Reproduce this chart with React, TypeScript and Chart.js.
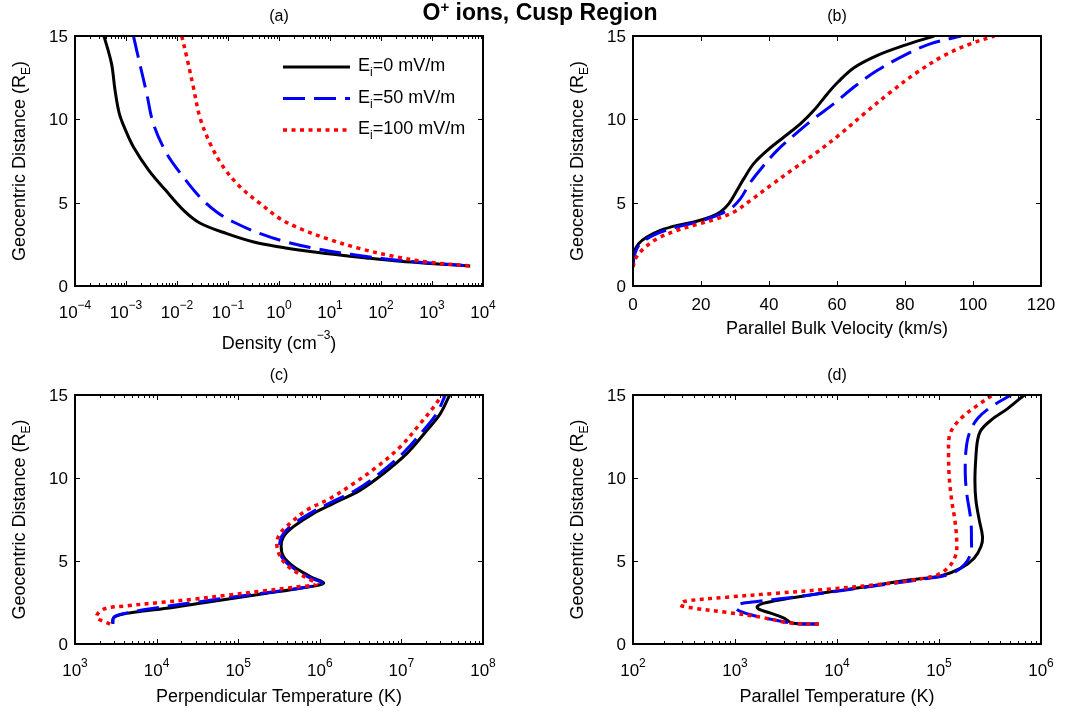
import React, { useEffect, useRef } from "react";
import { Chart, registerables } from "chart.js";

Chart.register(...registerables);

const FONT = '"Liberation Sans", Arial, Helvetica, sans-serif';

// ---------- Panel (a): Density (cm^-3) ----------
const aBlackX = [3.7e-4, 5.2e-4, 6.1e-4, 7.4e-4, 9.5e-4, 1.4e-3, 2.8e-3, 6.0e-3, 0.0135, 0.028, 0.095, 0.32, 1.05, 3.5, 11.7, 52, 240, 1070, 5600];
const aBlackY = [15, 13.34, 11.74, 10.34, 9.44, 8.34, 6.94, 5.74, 4.54, 3.78, 3.14, 2.64, 2.34, 2.1, 1.9, 1.68, 1.48, 1.34, 1.2];
const aBlueX = [1.4e-3, 1.62e-3, 2.55e-3, 3.44e-3, 6.3e-3, 0.0133, 0.028, 0.06, 0.128, 0.43, 1.41, 5.5, 25, 112, 500, 5600];
const aBlueY = [15, 14.14, 11.54, 9.74, 7.94, 6.54, 5.34, 4.44, 3.84, 3.14, 2.64, 2.24, 1.9, 1.64, 1.44, 1.2];
const aRedX = [0.0124, 0.0155, 0.0209, 0.028, 0.0447, 0.081, 0.174, 0.43, 1.05, 2.6, 8.7, 39, 178, 800, 5600];
const aRedY = [15, 13.74, 11.94, 10.14, 8.54, 7.14, 5.94, 4.94, 4.04, 3.44, 2.84, 2.24, 1.78, 1.44, 1.2];

// ---------- Panel (b): Parallel Bulk Velocity (km/s) ----------
const bBlackX = [0, 0.2, 1.67, 4.1, 8.05, 13, 17.9, 22.8, 25.7, 28.2, 30.6, 32.6, 35.5, 39.5, 44.4, 49.3, 53.2, 57.2, 60.3, 65, 71.9, 79.8, 88.6];
const bBlackY = [1.2, 1.94, 2.54, 2.94, 3.34, 3.64, 3.84, 4.14, 4.44, 4.94, 5.74, 6.44, 7.34, 8.14, 8.94, 9.74, 10.54, 11.54, 12.24, 13.1, 13.84, 14.44, 15];
const bBlueX = [0, 0.4, 2.2, 7.1, 13, 18.9, 24.8, 28.7, 31.6, 34.6, 38.5, 42.4, 47.3, 53.2, 59.1, 65, 71.9, 79.8, 87.6, 96.5];
const bBlueY = [1.2, 1.84, 2.54, 3.14, 3.54, 3.84, 4.24, 4.64, 5.24, 6.24, 7.24, 8.14, 9.04, 10.04, 10.94, 11.94, 12.94, 13.84, 14.54, 15];
const bRedX = [0, 0.7, 3.1, 7.1, 13, 18.9, 24.8, 29.7, 34.6, 40.5, 47.3, 54.2, 61.1, 68, 75.8, 83.7, 91.6, 99.4, 106.3];
const bRedY = [1.14, 1.64, 2.24, 2.84, 3.34, 3.7, 4.04, 4.44, 5.14, 6.04, 7.04, 8.04, 9.14, 10.34, 11.64, 12.84, 13.84, 14.54, 15];

// ---------- Panel (c): Perpendicular Temperature (K) ----------
const cBlackX = [2900, 2950, 3560, 6270, 13300, 34100, 87500, 224000, 575000, 1.11e6, 762000, 476000, 359000, 336000, 359000, 476000, 838000, 1.47e6, 3.13e6, 6.03e6, 1.17e7, 2.06e7, 3.0e7, 3.9e7];
const cBlackY = [1.22, 1.56, 1.76, 1.96, 2.16, 2.46, 2.76, 3.06, 3.36, 3.66, 4.07, 4.67, 5.27, 5.87, 6.47, 7.07, 7.87, 8.47, 9.27, 10.27, 11.48, 12.88, 13.88, 15];
const cBlueX = [2900, 3000, 3920, 6890, 14600, 37500, 96200, 247000, 632000, 1.06e6, 728000, 454000, 343000, 321000, 343000, 442000, 762000, 1.34e6, 2.85e6, 5.51e6, 1.06e7, 1.87e7, 2.73e7, 3.45e7];
const cBlueY = [1.22, 1.62, 1.82, 2.06, 2.3, 2.58, 2.86, 3.12, 3.4, 3.66, 4.03, 4.63, 5.23, 5.87, 6.51, 7.11, 7.87, 8.51, 9.31, 10.31, 11.52, 12.88, 13.92, 15];
const cRedX = [2690, 1840, 2230, 4300, 11000, 28300, 72500, 186000, 476000, 920000, 694000, 433000, 327000, 297000, 327000, 433000, 694000, 1.34e6, 2.6e6, 5.0e6, 9.7e6, 1.7e7, 2.49e7, 3.14e7];
const cRedY = [1.2, 1.62, 2.1, 2.3, 2.5, 2.7, 2.94, 3.18, 3.42, 3.62, 3.97, 4.57, 5.27, 6.07, 6.67, 7.27, 8.07, 8.77, 9.67, 10.67, 11.88, 13.28, 14.28, 15];

// ---------- Panel (d): Parallel Temperature (K) ----------
const dBlackX = [6650, 3640, 3020, 2230, 1710, 1650, 1920, 3020, 5510, 11700, 24900, 52900, 104000, 164000, 221000, 258000, 267000, 248000, 230000, 225000, 230000, 239000, 258000, 323000, 471000, 686000];
const dBlackY = [1.2, 1.26, 1.56, 1.86, 2.1, 2.26, 2.46, 2.7, 2.96, 3.26, 3.56, 3.87, 4.1, 4.57, 5.17, 5.87, 6.47, 7.47, 8.67, 9.87, 11.28, 12.28, 12.88, 13.48, 14.18, 15];
const dBlueX = [6650, 4070, 2590, 1650, 1130, 1010, 1130, 1650, 3780, 8040, 17100, 36300, 77100, 131000, 177000, 205000, 208000, 205000, 187000, 181000, 184000, 198000, 239000, 323000, 507000];
const dBlueY = [1.2, 1.22, 1.42, 1.66, 1.96, 2.22, 2.42, 2.56, 2.82, 3.1, 3.38, 3.66, 3.95, 4.23, 4.77, 5.47, 6.27, 7.47, 9.07, 10.27, 11.68, 12.68, 13.58, 14.28, 15];
const dRedX = [6650, 3510, 1780, 838, 394, 292, 314, 838, 2590, 8040, 24900, 52900, 96600, 126000, 146000, 149000, 143000, 133000, 126000, 124000, 126000, 139000, 177000, 239000, 335000];
const dRedY = [1.2, 1.26, 1.62, 1.9, 2.16, 2.34, 2.56, 2.82, 3.06, 3.3, 3.58, 3.83, 4.17, 4.67, 5.37, 6.27, 7.47, 8.67, 10.07, 11.48, 12.48, 13.08, 13.78, 14.38, 15];

// ---------- Axes / legend text ----------
const yTicks = [0, 5, 10, 15];
const aExps = [-4, -3, -2, -1, 0, 1, 2, 3, 4];
const bTicks = [0, 20, 40, 60, 80, 100, 120];
const cExps = [3, 4, 5, 6, 7, 8];
const dExps = [2, 3, 4, 5, 6];
const legendLabels = ["=0 mV/m", "=50 mV/m", "=100 mV/m"];
const mainTitle = "O";
const mainTitleSup = "+";
const mainTitleRest = " ions, Cusp Region";

type Part = { t: string; m?: "sup" | "sub" };

const STYLES = [
  { color: "#000000", width: 3, dash: [] as number[], order: 3 },
  { color: "#0000ff", width: 3, dash: [22, 9], order: 2 },
  { color: "#ff0000", width: 3.5, dash: [4, 4.5], order: 1 },
];

const TICK_SIZE = 17;
const LABEL_SIZE = 18;

function fontFor(p: Part, size: number) {
  return p.m ? `${Math.round(size * 0.68)}px ${FONT}` : `${size}px ${FONT}`;
}

function drawRich(ctx: CanvasRenderingContext2D, parts: Part[], x: number, y: number, align: "center" | "left", size: number) {
  const widths = parts.map((p) => {
    ctx.font = fontFor(p, size);
    return ctx.measureText(p.t).width;
  });
  const total = widths.reduce((s, w) => s + w, 0);
  let cx = align === "center" ? x - total / 2 : x;
  ctx.textAlign = "left";
  ctx.textBaseline = "alphabetic";
  parts.forEach((p, i) => {
    ctx.font = fontFor(p, size);
    const dy = p.m === "sup" ? -size * 0.55 : p.m === "sub" ? size * 0.3 : 0;
    ctx.fillText(p.t, cx, y + dy);
    cx += widths[i];
  });
}

type PanelCfg = {
  letter: string;
  log: boolean;
  min: number;
  max: number;
  ticks: number[];
  labels: Part[][];
  xTitle: Part[];
  xTitleOffset: number;
  tickLabelOffset: number;
  legend: boolean;
};

function makePlugin(cfg: PanelCfg) {
  return {
    id: "matlabAxes" + cfg.letter,
    afterDraw(chart: any) {
      const ctx: CanvasRenderingContext2D = chart.ctx;
      const { left, right, top, bottom } = chart.chartArea;
      const xs = chart.scales.x;
      const ys = chart.scales.y;
      ctx.save();
      ctx.setLineDash([]);
      ctx.strokeStyle = "#000";
      ctx.fillStyle = "#000";
      ctx.lineWidth = 1;
      const xTick = (v: number, len: number) => {
        const px = Math.round(xs.getPixelForValue(v)) + 0.5;
        ctx.beginPath();
        ctx.moveTo(px, bottom);
        ctx.lineTo(px, bottom - len);
        ctx.moveTo(px, top);
        ctx.lineTo(px, top + len);
        ctx.stroke();
      };
      cfg.ticks.forEach((v) => xTick(v, 5));
      if (cfg.log) {
        const d0 = Math.round(Math.log10(cfg.min));
        const d1 = Math.round(Math.log10(cfg.max));
        for (let d = d0; d < d1; d++) {
          for (let k = 2; k <= 9; k++) xTick(k * Math.pow(10, d), 3);
        }
      }
      yTicks.forEach((v) => {
        const py = Math.round(ys.getPixelForValue(v)) + 0.5;
        ctx.beginPath();
        ctx.moveTo(left, py);
        ctx.lineTo(left + 5, py);
        ctx.moveTo(right, py);
        ctx.lineTo(right - 5, py);
        ctx.stroke();
      });
      ctx.lineWidth = 2;
      ctx.strokeRect(left, top, right - left, bottom - top);

      // x tick labels
      cfg.ticks.forEach((v, i) => {
        drawRich(ctx, cfg.labels[i], xs.getPixelForValue(v), bottom + cfg.tickLabelOffset, "center", TICK_SIZE);
      });
      // y tick labels
      ctx.font = `${TICK_SIZE}px ${FONT}`;
      ctx.textAlign = "right";
      ctx.textBaseline = "alphabetic";
      yTicks.forEach((v) => {
        ctx.fillText(String(v), left - 7, ys.getPixelForValue(v) + 6);
      });
      // x title
      drawRich(ctx, cfg.xTitle, (left + right) / 2, bottom + cfg.xTitleOffset, "center", LABEL_SIZE);
      // y title
      ctx.save();
      ctx.translate(left - 50, (top + bottom) / 2);
      ctx.rotate(-Math.PI / 2);
      drawRich(ctx, [{ t: "Geocentric Distance (R" }, { t: "E", m: "sub" }, { t: ")" }], 0, 0, "center", LABEL_SIZE);
      ctx.restore();
      // panel letter
      ctx.font = `16px ${FONT}`;
      ctx.textAlign = "center";
      ctx.fillText(cfg.letter, (left + right) / 2, top - 15);

      // legend
      if (cfg.legend) {
        STYLES.forEach((s, i) => {
          const ly = top + 31 + i * 31.5;
          ctx.save();
          ctx.strokeStyle = s.color;
          ctx.lineWidth = s.width;
          ctx.setLineDash(s.dash);
          ctx.beginPath();
          ctx.moveTo(left + 208, ly);
          ctx.lineTo(left + 275, ly);
          ctx.stroke();
          ctx.restore();
          drawRich(ctx, [{ t: "E" }, { t: "i", m: "sub" }, { t: legendLabels[i] }], left + 283, ly + 4, "left", LABEL_SIZE);
        });
      }
      ctx.restore();
    },
  };
}

function toPts(xs: number[], ys: number[]) {
  return xs.map((x, i) => ({ x, y: ys[i] }));
}

type PanelProps = {
  cfg: PanelCfg;
  series: [number[], number[]][];
  box: { left: number; top: number; width: number; height: number };
  pad: { left: number; right: number; top: number; bottom: number };
};

function Panel({ cfg, series, box, pad }: PanelProps) {
  const ref = useRef<HTMLCanvasElement | null>(null);
  useEffect(() => {
    if (!ref.current) return;
    const chart = new Chart(ref.current, {
      type: "scatter",
      data: {
        datasets: series.map(([xs, ys], i) => ({
          data: toPts(xs, ys),
          showLine: true,
          borderColor: STYLES[i].color,
          backgroundColor: STYLES[i].color,
          borderWidth: STYLES[i].width,
          borderDash: STYLES[i].dash,
          borderCapStyle: "butt",
          borderJoinStyle: "round",
          pointRadius: 0,
          tension: 0.35,
          fill: false,
          order: STYLES[i].order,
        })),
      },
      options: {
        animation: false,
        responsive: false,
        maintainAspectRatio: false,
        events: [],
        layout: { padding: pad },
        plugins: {
          legend: { display: false },
          tooltip: { enabled: false },
          title: { display: false },
        },
        scales: {
          x: { type: cfg.log ? "logarithmic" : "linear", min: cfg.min, max: cfg.max, display: false },
          y: { type: "linear", min: 0, max: 15, display: false },
        },
      },
      plugins: [makePlugin(cfg)],
    } as any);
    return () => chart.destroy();
  }, []);
  return (
    <canvas
      ref={ref}
      width={box.width}
      height={box.height}
      style={{ position: "absolute", left: box.left, top: box.top, width: box.width, height: box.height }}
    />
  );
}

const expLabels = (exps: number[]): Part[][] =>
  exps.map((e) => [{ t: "10" }, { t: e < 0 ? "\u2212" + Math.abs(e) : String(e), m: "sup" }]);

export default function App() {
  useEffect(() => {
    document.body.style.margin = "0";
  }, []);
  const cfgA: PanelCfg = {
    letter: "(a)",
    log: true,
    min: 1e-4,
    max: 1e4,
    ticks: aExps.map((e) => Math.pow(10, e)),
    labels: expLabels(aExps),
    xTitle: [{ t: "Density (cm" }, { t: "\u22123", m: "sup" }, { t: ")" }],
    xTitleOffset: 63,
    tickLabelOffset: 32,
    legend: true,
  };
  const cfgB: PanelCfg = {
    letter: "(b)",
    log: false,
    min: 0,
    max: 120,
    ticks: bTicks,
    labels: bTicks.map((v) => [{ t: String(v) }]),
    xTitle: [{ t: "Parallel Bulk Velocity (km/s)" }],
    xTitleOffset: 48,
    tickLabelOffset: 24,
    legend: false,
  };
  const cfgC: PanelCfg = {
    letter: "(c)",
    log: true,
    min: 1e3,
    max: 1e8,
    ticks: cExps.map((e) => Math.pow(10, e)),
    labels: expLabels(cExps),
    xTitle: [{ t: "Perpendicular Temperature (K)" }],
    xTitleOffset: 58,
    tickLabelOffset: 32,
    legend: false,
  };
  const cfgD: PanelCfg = {
    letter: "(d)",
    log: true,
    min: 1e2,
    max: 1e6,
    ticks: dExps.map((e) => Math.pow(10, e)),
    labels: expLabels(dExps),
    xTitle: [{ t: "Parallel Temperature (K)" }],
    xTitleOffset: 58,
    tickLabelOffset: 32,
    legend: false,
  };
  return (
    <div style={{ position: "absolute", left: 0, top: 0, width: 1088, height: 713, background: "#fff", overflow: "hidden" }}>
      <Panel
        cfg={cfgA}
        series={[[aBlackX, aBlackY], [aBlueX, aBlueY], [aRedX, aRedY]]}
        box={{ left: 0, top: 0, width: 544, height: 356 }}
        pad={{ left: 75, right: 61, top: 36, bottom: 70 }}
      />
      <Panel
        cfg={cfgB}
        series={[[bBlackX, bBlackY], [bBlueX, bBlueY], [bRedX, bRedY]]}
        box={{ left: 544, top: 0, width: 544, height: 356 }}
        pad={{ left: 89, right: 47, top: 36, bottom: 70 }}
      />
      <Panel
        cfg={cfgC}
        series={[[cBlackX, cBlackY], [cBlueX, cBlueY], [cRedX, cRedY]]}
        box={{ left: 0, top: 356, width: 544, height: 357 }}
        pad={{ left: 75, right: 61, top: 39, bottom: 69 }}
      />
      <Panel
        cfg={cfgD}
        series={[[dBlackX, dBlackY], [dBlueX, dBlueY], [dRedX, dRedY]]}
        box={{ left: 544, top: 356, width: 544, height: 357 }}
        pad={{ left: 89, right: 47, top: 39, bottom: 69 }}
      />
      <div
        style={{
          position: "absolute",
          left: 0,
          top: 0,
          width: 1080,
          textAlign: "center",
          font: `bold 23px ${FONT}`,
          lineHeight: "24px",
          color: "#000",
          whiteSpace: "nowrap",
        }}
      >
        {mainTitle}
        <sup style={{ fontSize: 15, lineHeight: 0, verticalAlign: "8px" }}>{mainTitleSup}</sup>
        {mainTitleRest}
      </div>
    </div>
  );
}
